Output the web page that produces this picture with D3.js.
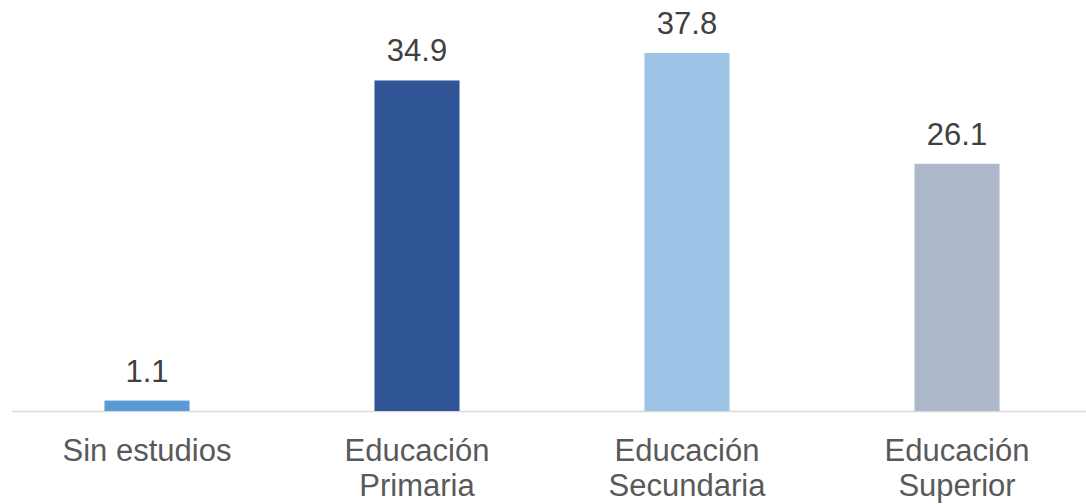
<!DOCTYPE html>
<html>
<head>
<meta charset="utf-8">
<script src="https://cdn.jsdelivr.net/npm/d3@7"></script>
<style>
  html, body { margin: 0; padding: 0; background: #fff; }
  svg { display: block; }
  text { font-family: "Liberation Sans", Arial, sans-serif; }
</style>
</head>
<body>
<svg id="chart" width="1086" height="504"></svg>
<script>
const categories = [["Sin estudios"], ["Educación", "Primaria"], ["Educación", "Secundaria"], ["Educación", "Superior"]];
const values = [1.1, 34.9, 37.8, 26.1];
const colors = ["#5B9BD5", "#2F5597", "#9DC3E6", "#ADB9CA"];

const svg = d3.select("#chart");
const baseY = 411;
const keys = categories.map((c, i) => i);

const x = d3.scaleBand().domain(keys).range([12, 1092]).paddingInner(0.685).paddingOuter(0.3425);
const y = d3.scaleLinear().domain([0, 37.8]).range([baseY, 53]);

svg.append("line")
  .attr("x1", 12).attr("x2", 1086)
  .attr("y1", baseY + 0.5).attr("y2", baseY + 0.5)
  .attr("stroke", "#D9D9D9").attr("stroke-width", 1.5);

svg.selectAll("rect.bar").data(values).enter().append("rect")
  .attr("class", "bar")
  .attr("x", (d, i) => x(i))
  .attr("width", x.bandwidth())
  .attr("y", d => y(d))
  .attr("height", d => baseY - y(d))
  .attr("fill", (d, i) => colors[i]);

svg.selectAll("text.val").data(values).enter().append("text")
  .attr("class", "val")
  .attr("x", (d, i) => x(i) + x.bandwidth() / 2)
  .attr("y", d => y(d) - 19)
  .attr("text-anchor", "middle")
  .attr("font-size", "31px")
  .attr("fill", "#404040")
  .text(d => d.toFixed(1));

const lab = svg.selectAll("text.cat").data(categories).enter().append("text")
  .attr("class", "cat")
  .attr("text-anchor", "middle")
  .attr("font-size", "31px")
  .attr("fill", "#595959");
lab.each(function(lines, i) {
  const t = d3.select(this);
  lines.forEach((l, j) => {
    t.append("tspan")
      .attr("x", x(i) + x.bandwidth() / 2)
      .attr("y", 461 + j * 35)
      .text(l);
  });
});
</script>
</body>
</html>
